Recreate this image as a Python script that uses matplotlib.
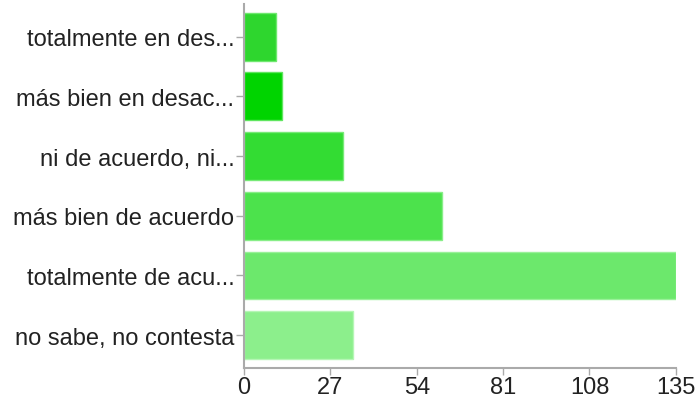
import matplotlib
matplotlib.use("Agg")
import matplotlib.pyplot as plt

plt.rcParams["font.family"] = ["Liberation Sans", "DejaVu Sans"]

categories = ["totalmente en des...", "más bien en desac...", "ni de acuerdo, ni...",
              "más bien de acuerdo", "totalmente de acu...", "no sabe, no contesta"]
values = [10, 12, 31, 62, 135, 34]
colors = ["#2ed62e", "#00d400", "#33dc33", "#4ce24c", "#6ce86c", "#8cef8c"]
edges = ["#6fe86f", "#5fe65f", "#77ea77", "#88ee88", "#99f199", "#b5f6b5"]
xticks = [0, 27, 54, 81, 108, 135]

fig = plt.figure(figsize=(6.96, 4.02), dpi=100)
ax = fig.add_axes([0.3506, 0.082, 0.6204, 0.906])

pos = list(range(len(categories)))
ax.barh(pos, values, height=0.8, color=colors, edgecolor=edges, linewidth=1)
ax.set_ylim(len(categories) - 0.45, -0.55)
ax.set_xlim(0, 135)
ax.set_yticks(pos)
ax.set_yticklabels(categories, fontsize=17, color="#222222")
ax.set_xticks(xticks)
ax.set_xticklabels([str(t) for t in xticks], fontsize=17, color="#222222")

for s in ["top", "right"]:
    ax.spines[s].set_visible(False)
for s in ["left", "bottom"]:
    ax.spines[s].set_color("#aaaaaa")
    ax.spines[s].set_linewidth(1.5)
ax.tick_params(axis="y", length=6, color="#aaaaaa", width=1, pad=1)
ax.tick_params(axis="x", length=5, color="#aaaaaa", width=1, pad=1)

fig.savefig("out.png", dpi=100)
